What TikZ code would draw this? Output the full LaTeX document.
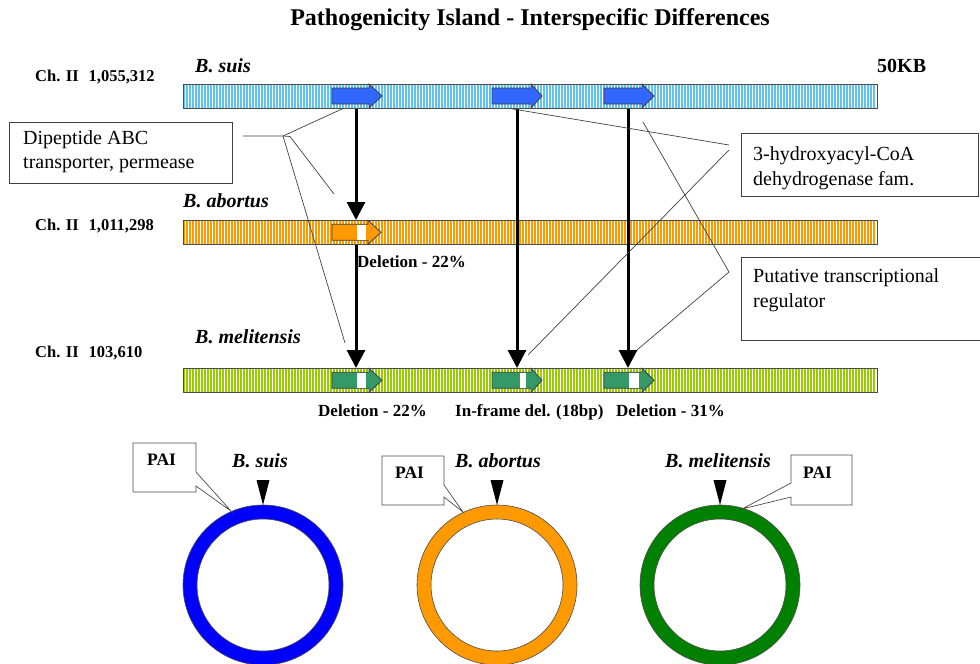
\documentclass[tikz,border=0pt]{standalone}
\usepackage{fontspec}
\setmainfont{Liberation Serif}
\usetikzlibrary{arrows.meta}
\definecolor{stripeblue}{RGB}{95,195,242}
\definecolor{stripeorange}{RGB}{255,153,0}
\definecolor{stripegreen}{RGB}{153,204,0}
\definecolor{geneblue}{RGB}{51,102,255}
\definecolor{geneorange}{RGB}{255,153,0}
\definecolor{genegreen}{RGB}{51,153,102}
\definecolor{ringblue}{RGB}{0,0,255}
\definecolor{ringorange}{RGB}{255,153,0}
\definecolor{ringgreen}{RGB}{0,128,0}
\newcommand\genearrow[5]{%
  \filldraw[fill=#5, draw=black!75, line width=0.8pt]
    (#1,#4-8) -- (#2,#4-8) -- (#2,#4-12) -- (#3,#4) -- (#2,#4+12)
    -- (#2,#4+8) -- (#1,#4+8) -- cycle;}
\newcommand\geneblank[3]{%
  \fill[white] (#1,#3-7.6) rectangle (#2,#3+7.6);}
\begin{document}
\begin{tikzpicture}[x=1pt,y=-1pt,
  lab/.style={inner sep=0pt, anchor=base west},
  chlab/.style={lab, font=\fontsize{16.5}{19}\selectfont\bfseries},
  sp/.style={lab, font=\fontsize{20}{24}\selectfont\bfseries\itshape},
  dellab/.style={lab, font=\fontsize{17}{20}\selectfont\bfseries},
  barline/.style={draw=black!70, line width=0.8pt},
  varrow/.style={line width=3pt, -{Triangle[width=18pt,length=18pt]}},
  leader/.style={draw=black!75, line width=0.7pt},
  cbox/.style={draw=black!75, fill=white, line width=0.9pt, inner sep=0pt, anchor=north west},
  ctext/.style={inner sep=0pt, anchor=north west, align=left, font=\fontsize{20}{24.5}\selectfont},
  paibox/.style={draw=black!70, fill=white, line width=0.7pt},
  pai/.style={lab, font=\fontsize{17.5}{20}\selectfont\bfseries},
  pointer/.style={fill=black}
]
\useasboundingbox (0,0) rectangle (980,664);

% title
\node[inner sep=0pt, anchor=base, font=\fontsize{24}{28}\selectfont\bfseries] (title) at (530,25)
  {Pathogenicity Island - Interspecific Differences};

% bars
\foreach \yt/\col in {84/stripeblue,220/stripeorange,368/stripegreen} {
  \fill[white] (183,\yt) rectangle (877,\yt+24.5);
  \foreach \xx in {184.2,187.2,...,876} \draw[\col, line width=1.7pt] (\xx,\yt) -- (\xx,\yt+24.5);
  \draw[barline] (183,\yt) rectangle (877,\yt+24.5);
}

% genes
\genearrow{332}{369}{382}{96}{geneblue}
\genearrow{492}{531}{542}{96}{geneblue}
\genearrow{604}{642}{654}{96}{geneblue}
\genearrow{332}{368}{381}{232.3}{geneorange}
\geneblank{357}{366}{232.3}
\genearrow{332}{369}{382}{380.3}{genegreen}
\geneblank{357}{366}{380.3}
\genearrow{492}{531}{542}{380.3}{genegreen}
\geneblank{520}{526}{380.3}
\genearrow{604}{642}{654}{380.3}{genegreen}
\geneblank{629}{639}{380.3}

% labels
\node[chlab] (ch1) at (35,81) {Ch. II\hspace{0.6em}1,055,312};
\node[chlab] (ch2) at (35,230) {Ch. II\hspace{0.6em}1,011,298};
\node[chlab] (ch3) at (35,357) {Ch. II\hspace{0.6em}103,610};
\node[sp] (suis) at (195,72) {B. suis};
\node[sp] (abortus) at (183,207) {B. abortus};
\node[sp] (meli) at (195,343) {B. melitensis};
\node[lab, font=\fontsize{20}{24}\selectfont\bfseries] (kb) at (877,72) {50KB};
\node[dellab] (del1) at (357,267) {Deletion - 22\%};
\node[dellab] (del2) at (318,416) {Deletion - 22\%};
\node[dellab] (del3) at (455,416) {In-frame del. (18bp)};
\node[dellab] (del4) at (616,416) {Deletion - 31\%};

% vertical arrows
\coordinate (a1s) at (356,108.5);
\coordinate (a1e) at (356,220);
\coordinate (a1b) at (356,244.5);
\coordinate (a1m) at (356,368);
\coordinate (a2s) at (517,108.5);
\coordinate (a2m) at (517,368);
\coordinate (a3s) at (628,108.5);
\coordinate (a3m) at (628,368);
\draw[varrow] (a1s) -- (a1e);
\draw[varrow] (a1b) -- (a1m);
\draw[varrow] (a2s) -- (a2m);
\draw[varrow] (a3s) -- (a3m);

% callout boxes
\node[cbox, minimum width=223pt, minimum height=61pt] (dbox) at (9,122) {};
\node[ctext] (dtext) at (23,130) {Dipeptide ABC\\transporter, permease};
\node[cbox, minimum width=237pt, minimum height=63pt] (hbox) at (741,133) {};
\node[ctext] (htext) at (753,146.5) {3-hydroxyacyl-CoA\\dehydrogenase fam.};
\node[cbox, minimum width=245pt, minimum height=83pt] (pbox) at (741,257) {};
\node[ctext] (ptext) at (753,268.5) {Putative transcriptional\\regulator};

% leader lines
\coordinate (d0) at (243,136);
\coordinate (d1) at (283,136);
\coordinate (d2) at (290,136.5);
\coordinate (dg1) at (343,108.5);
\coordinate (dg2) at (334,194);
\coordinate (dg3) at (345,343);
\draw[leader] (d0) -- (d1) -- (d2) -- (dg2);
\draw[leader] (d1) -- (dg1);
\draw[leader] (d1) -- (dg3);
\coordinate (h1) at (729,145);
\coordinate (h2) at (729,150);
\coordinate (hg1) at (510,108.5);
\coordinate (hg2) at (528,355);
\draw[leader] (h1) -- (hg1);
\draw[leader] (h2) -- (hg2);
\coordinate (p1) at (729,272);
\coordinate (pg1) at (643,122);
\coordinate (pg2) at (637,350);
\draw[leader] (p1) -- (pg1);
\draw[leader] (p1) -- (pg2);

% plasmid rings
\foreach \cx/\col/\nm in {263/ringblue/r1,497/ringorange/r2,720/ringgreen/r3} {
  \coordinate (\nm) at (\cx,585);
  \fill[\col, even odd rule] (\nm) circle[radius=80] (\nm) circle[radius=66];
  \draw[black!70, line width=0.6pt] (\nm) circle[radius=80] (\nm) circle[radius=66];
  \fill[pointer] (\cx-6.5,480) -- (\cx+6.5,480) -- (\cx,505) -- cycle;
}
\node[sp] (bs) at (232,467) {B. suis};
\node[sp] (ba) at (455,467) {B. abortus};
\node[sp] (bm) at (665,467) {B. melitensis};

% PAI callouts
\draw[paibox] (133,443) -- (196,443) -- (196,472) -- (231,511) -- (196,486) -- (196,492) -- (133,492) -- cycle;
\node[pai] (pai1) at (147,465) {PAI};
\draw[paibox] (382,456) -- (444,456) -- (444,485) -- (463,512) -- (444,497) -- (444,505) -- (382,505) -- cycle;
\node[pai] (pai2) at (395,478) {PAI};
\draw[paibox] (791,455) -- (852,455) -- (852,505) -- (791,505) -- (791,497) -- (742,509) -- (791,483) -- cycle;
\node[pai] (pai3) at (803,478) {PAI};
\end{tikzpicture}
\end{document}
